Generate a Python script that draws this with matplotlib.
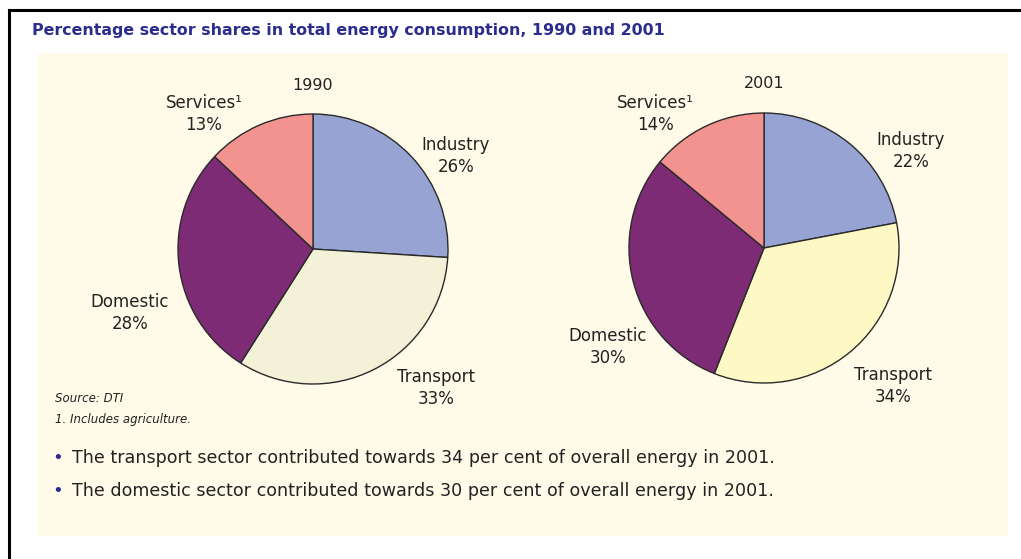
import matplotlib.pyplot as plt
from matplotlib.patches import Rectangle
from matplotlib.lines import Line2D

plt.rcParams['font.family'] = ['DejaVu Sans']

sectors = ['Industry', 'Transport', 'Domestic', 'Services\u00b9']
shares_1990 = [26, 33, 28, 13]
shares_2001 = [22, 34, 30, 14]
years = ['1990', '2001']
colors_1990 = ['#97a3d3', '#f3f2d8', '#7e2b76', '#f2938f']
colors_2001 = ['#97a3d3', '#fef9c4', '#7e2b76', '#f2938f']

W, H = 1021, 559
fig = plt.figure(figsize=(W / 100, H / 100), dpi=100)
fig.patch.set_facecolor('white')


def fx(px):
    return px / W


def fy(py):
    return 1 - py / H


# frame lines and cream panel
fig.add_artist(Line2D([fx(9), fx(1021)], [fy(10), fy(10)], color='black', lw=2.2))
fig.add_artist(Line2D([fx(9), fx(9)], [fy(10), fy(559)], color='black', lw=2.2))
fig.add_artist(Rectangle((fx(38), fy(536)), fx(1008) - fx(38), fy(53) - fy(536),
                         facecolor='#fffbe8', edgecolor='none', zorder=0))

fig.text(fx(32), fy(30), 'Percentage sector shares in total energy consumption, 1990 and 2001',
         color='#2b2d8e', fontsize=11.4, fontweight='bold', va='center', ha='left')


def draw_pie(cx, cy, r, values, colors, year, label_pos):
    ax = fig.add_axes([fx(cx - r), fy(cy + r), fx(2 * r), fy(0) - fy(2 * r)])
    ax.pie(values, colors=colors, startangle=90, counterclock=False,
           wedgeprops=dict(edgecolor='#2a2a2a', linewidth=1.0))
    ax.set_xlim(-1, 1)
    ax.set_ylim(-1, 1)
    ax.set_aspect('equal')
    ax.axis('off')
    fig.text(fx(cx), fy(cy - 164), year, fontsize=11.5, ha='center', va='center', color='#222222')
    for name, val, (px, py) in zip(sectors, values, label_pos):
        fig.text(fx(px), fy(py), f'{name}\n{val}%', fontsize=12, ha='center', va='center',
                 color='#222222', linespacing=1.25)
    return ax


draw_pie(313, 249, 135, shares_1990, colors_1990, years[0],
         [(456, 156), (436, 388), (130, 313), (204, 114)])
draw_pie(764, 248, 135, shares_2001, colors_2001, years[1],
         [(911, 151), (893, 386), (608, 347), (655, 114)])

fig.text(fx(55), fy(398), 'Source: DTI', fontsize=8.5, style='italic', va='center', color='#222222')
fig.text(fx(55), fy(419), '1. Includes agriculture.', fontsize=8.5, style='italic', va='center',
         color='#222222')

bullets = ['The transport sector contributed towards 34 per cent of overall energy in 2001.',
           'The domestic sector contributed towards 30 per cent of overall energy in 2001.']
for i, b in enumerate(bullets):
    y = 458 + i * 33
    fig.text(fx(58), fy(y), '\u2022', fontsize=13, color='#2b2d8e', ha='center', va='center')
    fig.text(fx(72), fy(y), b, fontsize=12.6, va='center', color='#222222')

plt.savefig('out.png', dpi=100)
plt.close()
